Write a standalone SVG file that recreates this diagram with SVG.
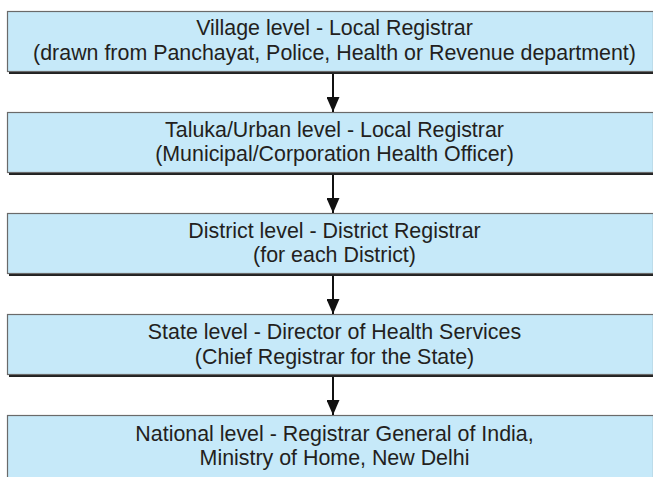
<svg xmlns="http://www.w3.org/2000/svg" width="653" height="477" viewBox="0 0 653 477">
<style>
.box{fill:#c6e9f9;stroke:#6a6a6a;stroke-width:1.2}
.sh{fill:#222}
.t{font-family:"Liberation Sans",Arial,sans-serif;font-size:21.4px;fill:#231f20;text-anchor:middle}
.c{stroke:#111;stroke-width:2;fill:none}
</style>
<defs>
<marker id="ah" markerWidth="15" markerHeight="13" refX="15" refY="6.5" orient="auto" markerUnits="userSpaceOnUse" viewBox="0 0 15 13">
<path d="M0,0 L15,6.5 L0,13 Z" fill="#111"/>
</marker>
</defs>
<rect width="653" height="477" fill="#fff"/>
<g id="n1">
<rect class="sh" x="9" y="13" width="646" height="61"/>
<rect class="box" x="7.5" y="11.5" width="646" height="60"/>
<text class="t" x="334.5" y="35">Village level - Local Registrar</text>
<text class="t" x="334.5" y="59.5">(drawn from Panchayat, Police, Health or Revenue department)</text>
</g>
<g id="n2">
<rect class="sh" x="9" y="114" width="646" height="61"/>
<rect class="box" x="7.5" y="112.5" width="646" height="60"/>
<text class="t" x="334.5" y="136.5">Taluka/Urban level - Local Registrar</text>
<text class="t" x="334.5" y="161">(Municipal/Corporation Health Officer)</text>
</g>
<g id="n3">
<rect class="sh" x="9" y="215" width="646" height="61"/>
<rect class="box" x="7.5" y="213.5" width="646" height="60"/>
<text class="t" x="334.5" y="237.5">District level - District Registrar</text>
<text class="t" x="334.5" y="262">(for each District)</text>
</g>
<g id="n4">
<rect class="sh" x="9" y="316" width="646" height="61"/>
<rect class="box" x="7.5" y="314.5" width="646" height="60"/>
<text class="t" x="334.5" y="339">State level - Director of Health Services</text>
<text class="t" x="334.5" y="363.5">(Chief Registrar for the State)</text>
</g>
<g id="n5">
<rect class="sh" x="9" y="417" width="646" height="70"/>
<rect class="box" x="7.5" y="415.5" width="646" height="70"/>
<text class="t" x="334.5" y="440.5">National level - Registrar General of India,</text>
<text class="t" x="334.5" y="464.5">Ministry of Home, New Delhi</text>
</g>
<g id="connectors">
<line class="c" x1="333" y1="74" x2="333" y2="112" marker-end="url(#ah)"/>
<line class="c" x1="333" y1="175" x2="333" y2="213" marker-end="url(#ah)"/>
<line class="c" x1="333" y1="276" x2="333" y2="314" marker-end="url(#ah)"/>
<line class="c" x1="333" y1="377" x2="333" y2="415" marker-end="url(#ah)"/>
</g>
</svg>
